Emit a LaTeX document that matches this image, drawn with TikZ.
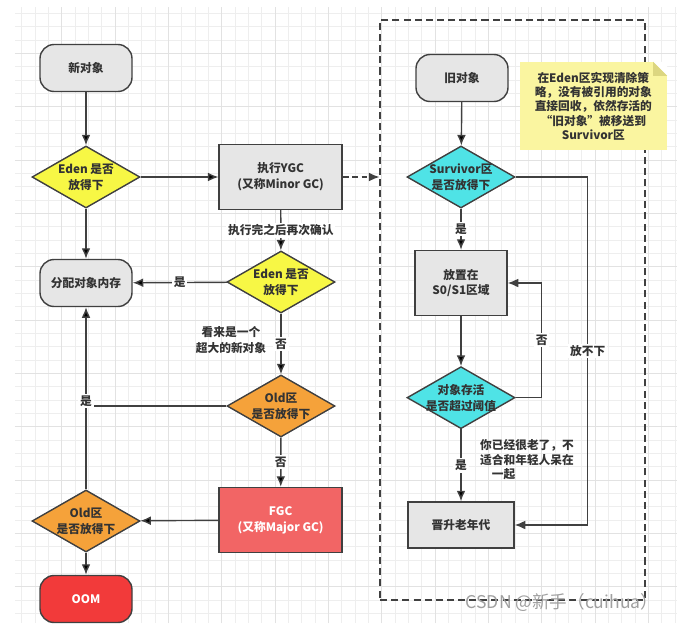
\documentclass[tikz,border=0pt]{standalone}
\usepackage{fontspec}
\setmainfont{Noto Sans CJK SC}
\usetikzlibrary{arrows.meta,calc,positioning,shapes.geometric}

\definecolor{linecol}{HTML}{404040}
\definecolor{textcol}{HTML}{333333}
\definecolor{gridminor}{HTML}{EEEEEE}
\definecolor{gridmajor}{HTML}{E2E2E2}
\definecolor{boxgray}{HTML}{E6E6E6}
\definecolor{edenyellow}{HTML}{F7F745}
\definecolor{oldorange}{HTML}{F5A23A}
\definecolor{survcyan}{HTML}{4FE3E6}
\definecolor{fgcred}{HTML}{F26565}
\definecolor{oomred}{HTML}{F23A3A}
\definecolor{notebg}{HTML}{FAF5A0}
\definecolor{notefold}{HTML}{DCD680}

\begin{document}
\begin{tikzpicture}[>={Latex[length=9pt,width=7.5pt]},every node/.append style={align=center,text=textcol,font=\bfseries\fontsize{10}{13.5}\selectfont},
    line/.style={draw=linecol, line width=1.2pt},
    conn/.style={line, ->},
    term/.style={line, fill=boxgray, rounded corners=12pt, minimum width=2.76cm, minimum height=1.41cm},
    proc/.style={line, fill=boxgray, minimum width=3.69cm, minimum height=1.95cm},
    decision/.style={diamond, line, aspect=1.74, inner sep=-3pt, minimum width=3.24cm, minimum height=1.86cm},
    lbl/.style={fill=white, inner sep=1.5pt}]
    \useasboundingbox (0,0) rectangle (20.31,-18.69);
    % background grid
    \draw[gridminor, line width=0.4pt, step=0.4cm, xshift=0.25cm] (0.2,-0.2) grid (20.05,-18.69);
    \draw[gridmajor, line width=0.4pt, step=1.6cm, xshift=0.25cm] (0.2,-0.2) grid (20.05,-18.69);

    % left part
    \node [term] (new) at (2.58,-2.04) {新对象};
    \node [decision, fill=edenyellow] (eden1) at (2.58,-5.31) {Eden 是否\\放得下};
    \node [proc] (ygc) at (8.42,-5.31) {执行YGC\\(又称Minor GC)};
    \node [term] (alloc) at (2.58,-8.49) {分配对象内存};
    \node [decision, fill=edenyellow] (eden2) at (8.43,-8.46) {Eden 是否\\放得下};
    \node (big) at (6.93,-10.2) {看来是一个\\超大的新对象};
    \node [decision, fill=oldorange] (old1) at (8.43,-12.18) {Old区\\是否放得下};
    \node [proc, fill=fgcred, text=white] (fgc) at (8.42,-15.6) {FGC\\(又称Major GC)};
    \node [decision, fill=oldorange] (old2) at (2.58,-15.63) {Old区\\是否放得下};
    \node [term, fill=oomred, text=white] (oom) at (2.58,-17.97) {OOM};

    % right part
    \node [line, dash pattern=on 6pt off 3.5pt, minimum width=7.95cm, minimum height=17.4cm] (zone) at (15.38,-9.3) {};
    \node [term] (oldobj) at (13.86,-2.34) {旧对象};
    \node [decision, fill=survcyan] (surv) at (13.83,-5.31) {Survivor区\\是否放得下};
    \node [proc, minimum width=2.76cm] (s01) at (13.83,-8.49) {放置在\\S0/S1区域};
    \node [decision, fill=survcyan, inner sep=-6pt] (age) at (13.83,-11.93) {对象存活\\是否超过阈值};
    \node [proc, minimum width=3.18cm, minimum height=1.38cm] (promote) at (13.83,-15.75) {晋升老年代};
    \node [anchor=west, align=left, font=\bfseries\fontsize{10}{12.3}\selectfont] (tooold) at (14.28,-13.8) {你已经很老了，不\\适合和年轻人呆在\\\hspace{1em}一起};
    \node [fill=notebg, minimum width=4.41cm, minimum height=2.64cm, font=\bfseries\fontsize{10}{12.2}\selectfont] (note) at (17.8,-3.18) {在Eden区实现清除策\\略，没有被引用的对象\\直接回收，依然存活的\\“旧对象”被移送到\\Survivor区};
    \fill[white] ($(note.north east)+(-0.42,0)$) -- (note.north east) -- ($(note.north east)+(0,-0.42)$) -- cycle;
    \fill[notefold] ($(note.north east)+(-0.42,0)$) -- ($(note.north east)+(0,-0.42)$) -- ($(note.north east)+(-0.42,-0.42)$) -- cycle;
    \node [text=gray!75, font=\fontsize{15}{16}\selectfont] (mark) at (16.86,-18.06) {CSDN @新手（cuihua）};

    % connectors
    \path[conn] (new) edge (eden1)
        (eden1) edge (ygc)
        (eden1) edge (alloc)
        (ygc) edge node[lbl] {执行完之后再次确认} (eden2)
        (eden2) edge node[lbl] {是} (alloc)
        (eden2) edge node[lbl] {否} (old1)
        (old1) edge node[lbl] {否} (fgc)
        (fgc) edge (old2)
        (old2) edge (alloc)
        (old2) edge (oom)
        (oldobj) edge (surv)
        (surv) edge node[lbl] {是} (s01)
        (s01) edge (age)
        (age) edge node[lbl] {是} (promote);
    \draw[line] (old1.west) -- (old1.west -| old2.north) node[lbl, pos=1, yshift=4pt] {是};
    \draw[conn, dash pattern=on 5pt off 3pt] (ygc) -- (ygc -| zone.west);
    \draw[conn] (age.east) -- ++(0.78,0) |- node[lbl, pos=0.25] {否} (s01.east);
    \draw[conn] (surv.east) -- ++(2.16,0) |- node[lbl, pos=0.25] {放不下} (promote.east);
\end{tikzpicture}
\end{document}
